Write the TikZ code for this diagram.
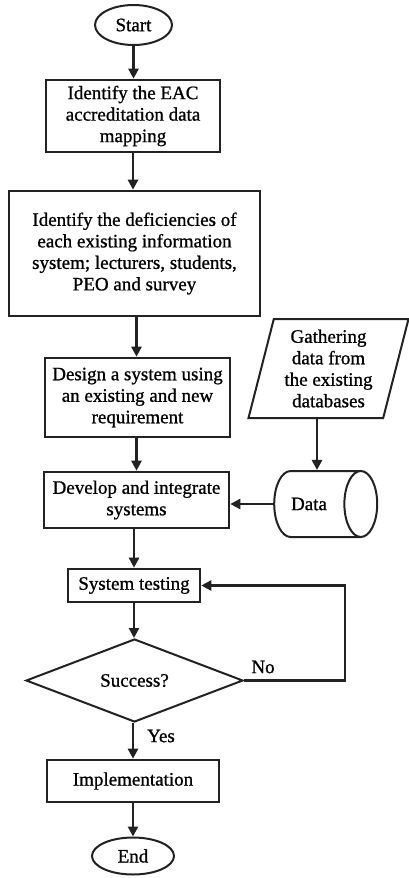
\documentclass[tikz,border=0pt]{standalone}
\usepackage{fontspec}
\setmainfont{Liberation Serif}[AutoFakeBold=0.9]
\usetikzlibrary{shapes.geometric,arrows.meta}
\definecolor{ln}{HTML}{222222}
\begin{document}
\begin{tikzpicture}[x=1pt,y=-1pt, line join=miter,
  every node/.style={font=\fontsize{19}{21.5}\selectfont\bfseries, text=black, align=center, inner sep=0pt},
  proc/.style={draw=ln, line width=2.6pt, rectangle},
  term/.style={draw=ln, line width=2pt, ellipse},
  arr/.style={draw=ln, line width=2.6pt, -{Triangle[length=10pt,width=10pt]}}]
\useasboundingbox (0,0) rectangle (409,878);
\fill[white] (0,0) rectangle (409,878);

\node[term, minimum width=77pt, minimum height=40pt] (start) at (133.5,25) {Start};
\node[proc, minimum width=174pt, minimum height=72pt] (b1) at (133,116) {Identify the EAC\\accreditation data\\mapping};
\node[proc, minimum width=251pt, minimum height=125pt] (b2) at (134.5,253.5) {Identify the deficiencies of\\each existing information\\system; lecturers, students,\\PEO and survey};
\node[proc, minimum width=185pt, minimum height=79pt] (b3) at (137.5,397.5) {Design a system using\\an existing and new\\requirement};
\node[proc, minimum width=185pt, minimum height=56pt] (b4) at (136.5,500) {Develop and integrate\\systems};
\node[proc, minimum width=132pt, minimum height=33pt] (b5) at (134,585.5) {System testing};
\node[diamond, draw=ln, line width=2pt, minimum width=217pt, minimum height=83pt, aspect=2.6] (dia) at (134.5,680.5) {Success?};
\node[proc, minimum width=172pt, minimum height=42pt] (impl) at (133,781) {Implementation};
\node[term, minimum width=82pt, minimum height=37pt] (end) at (133,856) {End};

\node[trapezium, draw=ln, line width=2pt, trapezium left angle=72, trapezium right angle=108, trapezium stretches body, minimum width=160pt, minimum height=99pt] (gath) at (328.5,368.5) {Gathering\\data from\\the existing\\databases};
\node[cylinder, draw=ln, line width=2pt, aspect=2.6, minimum width=66pt, minimum height=103pt] (data) at (317,504) {Data\hspace*{16pt}};

\node (no) at (263,667) {No};
\node (yes) at (161,736) {Yes};
\coordinate (lp) at (345,585.5);

\draw[arr] (start.south) -- (start.south |- b1.north);
\draw[arr] (b1.south) -- (b1.south |- b2.north);
\draw[arr] (b2.south -| b4.north) -- (b3.north -| b4.north);
\draw[arr] (b3.south -| b4.north) -- (b4.north);
\draw[arr] (b4.south -| b5.north) -- (b5.north);
\draw[arr] (b5.south) -- (b5.south |- dia.north);
\draw[arr] (dia.south -| impl.north) -- (impl.north);
\draw[arr] (impl.south) -- (impl.south |- end.north);
\draw[arr] (data.north |- gath.south) -- (data.north);
\draw[arr] (data.west) -- (b4.east |- data.west);
\draw[arr] (dia.east) -| (lp) -- (b5.east);
\end{tikzpicture}
\end{document}
